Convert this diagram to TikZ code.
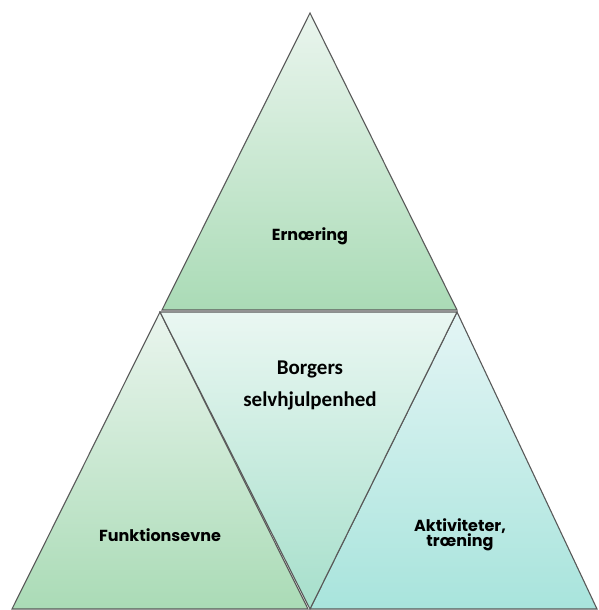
\documentclass[tikz,border=0pt]{standalone}
\usepackage{fontspec}
\setmainfont{Carlito}
\newfontfamily\geofont{Poppins}
\usetikzlibrary{calc}
\definecolor{grtop}{HTML}{EAF5EE}
\definecolor{grbot}{HTML}{AADBB6}
\definecolor{mdtop}{HTML}{EAF7F2}
\definecolor{mdbot}{HTML}{A6DFCB}
\definecolor{cytop}{HTML}{E4F5F5}
\definecolor{cybot}{HTML}{A8E4DC}
\definecolor{edge}{HTML}{595959}
\tikzset{
  tri/.style= {draw=edge, line width=1.1pt, line join=miter},
  green/.style= {tri, top color=grtop, bottom color=grbot},
  mint/.style= {tri, top color=mdtop, bottom color=mdbot},
  cyan/.style= {tri, top color=cytop, bottom color=cybot},
  label/.style= {font=\geofont\bfseries\fontsize{16}{15}\selectfont, align=center, inner sep=0},
  core/.style= {font=\bfseries\fontsize{21}{32}\selectfont, align=center, inner sep=0},
}

\begin{document}
\begin{tikzpicture}[x=1pt, y=1pt]
  \useasboundingbox (0,0) rectangle (598,610);
  \coordinate (top) at (310,597);
  \coordinate (tl) at (162,300);
  \coordinate (tr) at (457,300);
  \coordinate (ml) at (160,298);
  \coordinate (mr) at (457,298);
  \coordinate (bl) at (12,1);
  \coordinate (bm) at (310,1);
  \coordinate (bm2) at (308,1);
  \coordinate (br) at (597,1);

  \draw [green] (top) -- (tr) -- (tl) -- cycle ;
  \draw [green] (ml) -- (bm2) -- (bl) -- cycle ;
  \draw [cyan] (mr) -- (br) -- (bm) -- cycle ;
  \draw [mint] (ml) -- (mr) -- (bm) -- cycle ;

  \node [label] (ern) at (310,374) {Ernœring} ;
  \node [label] (fkt) at (160,75) {Funktionsevne} ;
  \node [label] (akt) at (460,75) {Aktiviteter,\\trœning} ;
  \node [core] (bsh) at (310,225) {Borgers\\selvhjulpenhed} ;
\end{tikzpicture}
\end{document}
